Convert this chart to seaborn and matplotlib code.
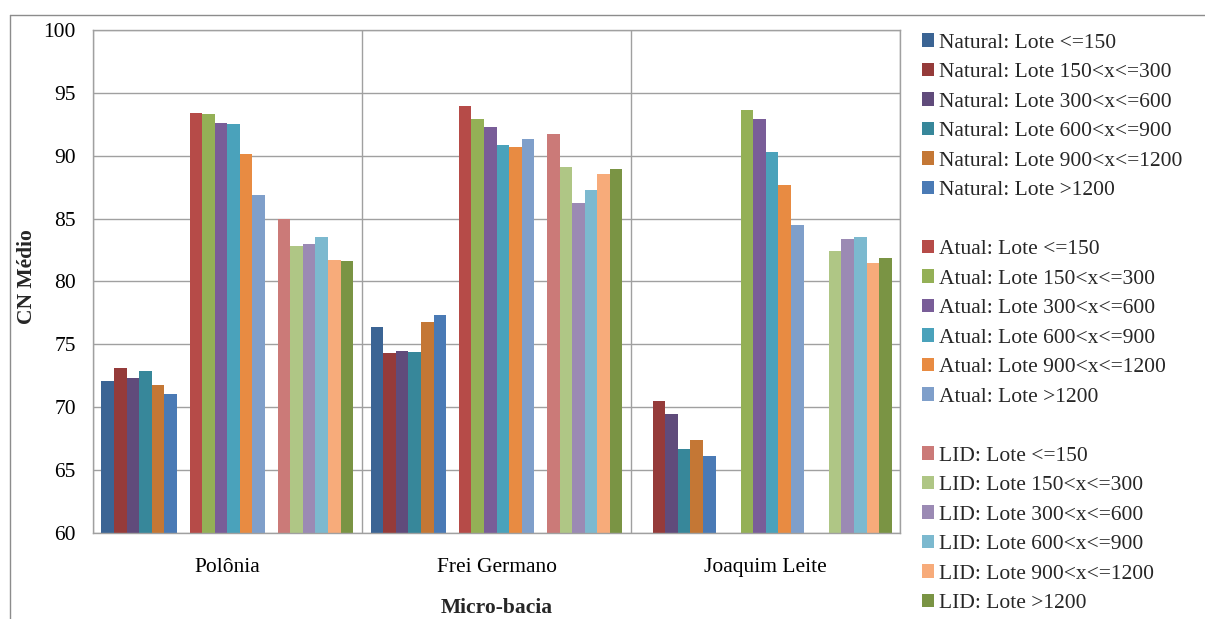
import matplotlib
matplotlib.use("Agg")
import matplotlib.pyplot as plt
from matplotlib.patches import Patch
from matplotlib.lines import Line2D
import seaborn as sns
import pandas as pd
import numpy as np

# --- data -------------------------------------------------------------
categories = ["Polônia", "Frei Germano", "Joaquim Leite"]
lot_classes = ["Lote <=150", "Lote 150<x<=300", "Lote 300<x<=600",
               "Lote 600<x<=900", "Lote 900<x<=1200", "Lote >1200"]
scenarios = ["Natural", "Atual", "LID"]

# CN médio per micro-bacia (rows) and lot class (columns); None = no value
natural_cn = [
    [72.1, 73.1, 72.3, 72.9, 71.8, 71.1],
    [76.4, 74.3, 74.5, 74.4, 76.8, 77.3],
    [None, 70.5, 69.5, 66.7, 67.4, 66.1],
]
atual_cn = [
    [93.4, 93.3, 92.6, 92.5, 90.1, 86.9],
    [93.9, 92.9, 92.3, 90.8, 90.7, 91.3],
    [None, 93.6, 92.9, 90.3, 87.7, 84.5],
]
lid_cn = [
    [85.0, 82.8, 83.0, 83.5, 81.7, 81.65],
    [91.7, 89.1, 86.2, 87.3, 88.5, 88.9],
    [None, 82.4, 83.4, 83.5, 81.5, 81.9],
]

natural_colors = ["#3B6494", "#953B3A", "#604B7B", "#37879A", "#C47735", "#4A7AB5"]
atual_colors = ["#B64B48", "#94B056", "#795D98", "#4AA2BB", "#E88B42", "#7F9FCA"]
lid_colors = ["#CB7A78", "#AFC685", "#9B8AB4", "#7CB9CF", "#F7AB7A", "#7A9444"]

# --- long table ---------------------------------------------------------
rows = []
for scen, table in zip(scenarios, [natural_cn, atual_cn, lid_cn]):
    for cat, vals in zip(categories, table):
        for cls, v in zip(lot_classes, vals):
            if v is not None:
                rows.append({"Micro-bacia": cat, "Serie": f"{scen}: {cls}", "CN": v})
df = pd.DataFrame(rows)

spacers = [" ", "  "]
hue_order = []
palette = {}
for i, (scen, cols) in enumerate(zip(scenarios, [natural_colors, atual_colors, lid_colors])):
    for cls, c in zip(lot_classes, cols):
        name = f"{scen}: {cls}"
        hue_order.append(name)
        palette[name] = c
    if i < 2:
        hue_order.append(spacers[i])
        palette[spacers[i]] = "white"

# --- figure -------------------------------------------------------------
sns.set_theme(style="white")
plt.rcParams["font.family"] = ["Liberation Serif", "DejaVu Serif"]
fs = 15.5

fig = plt.figure(figsize=(12.05, 6.19), dpi=100)
ax = fig.add_axes([0.0769, 0.1385, 0.6704, 0.8136])

sns.barplot(data=df, x="Micro-bacia", y="CN", hue="Serie", hue_order=hue_order,
            order=categories, palette=palette, width=0.935, saturation=1,
            errorbar=None, linewidth=0, legend=False, ax=ax)

grid_c = "#A0A0A0"
ax.set_ylim(60, 100)
ax.set_xlim(-0.5, 2.5)
ax.set_yticks(np.arange(60, 101, 5))
ax.yaxis.grid(True, color=grid_c, linewidth=1.0)
ax.set_axisbelow(True)

# category separators
ax.set_xticks([0, 1, 2])
ax.set_xticklabels(categories)
ax.set_xticks([-0.5, 0.5, 1.5, 2.5], minor=True)
ax.xaxis.grid(True, which="minor", color=grid_c, linewidth=1.0)
ax.tick_params(axis="x", which="major", length=0, pad=18, labelsize=fs, colors="black")
ax.tick_params(axis="x", which="minor", length=5, width=1.0, color=grid_c, direction="out")
ax.tick_params(axis="y", length=6, width=1.0, color=grid_c, direction="out", pad=6,
               labelsize=fs, colors="black")
ax.tick_params(axis="y", labelcolor="black")

for side in ["left", "right", "top", "bottom"]:
    ax.spines[side].set_visible(True)
    ax.spines[side].set_color(grid_c)
    ax.spines[side].set_linewidth(1.0)

ax.set_ylabel("CN Médio", fontsize=fs, fontweight="bold")
ax.yaxis.set_label_coords(-0.0686, 0.51)
ax.set_xlabel("Micro-bacia", fontsize=fs, fontweight="bold", labelpad=15)

# --- legend with blank rows between scenarios ---------------------------
handles = []
labels = []
for name in hue_order:
    if name.strip() == "":
        handles.append(Patch(facecolor="none", edgecolor="none"))
        labels.append(" ")
    else:
        handles.append(Patch(facecolor=palette[name], edgecolor="none"))
        labels.append(name)
fig.legend(handles, labels, loc="upper left", bbox_to_anchor=(0.7655, 0.946),
           frameon=False, fontsize=fs, handlelength=0.56, handleheight=0.56,
           handletextpad=0.2, labelspacing=0.48, borderaxespad=0, borderpad=0)

# chart border
fig.add_artist(Line2D([10 / 1205, 10 / 1205], [0, 1 - 15 / 619], transform=fig.transFigure,
                      color="#8C8C8C", linewidth=1.0))
fig.add_artist(Line2D([10 / 1205, 1], [1 - 15 / 619, 1 - 15 / 619], transform=fig.transFigure,
                      color="#8C8C8C", linewidth=1.0))

fig.savefig("out.png", dpi=100, facecolor="white")
